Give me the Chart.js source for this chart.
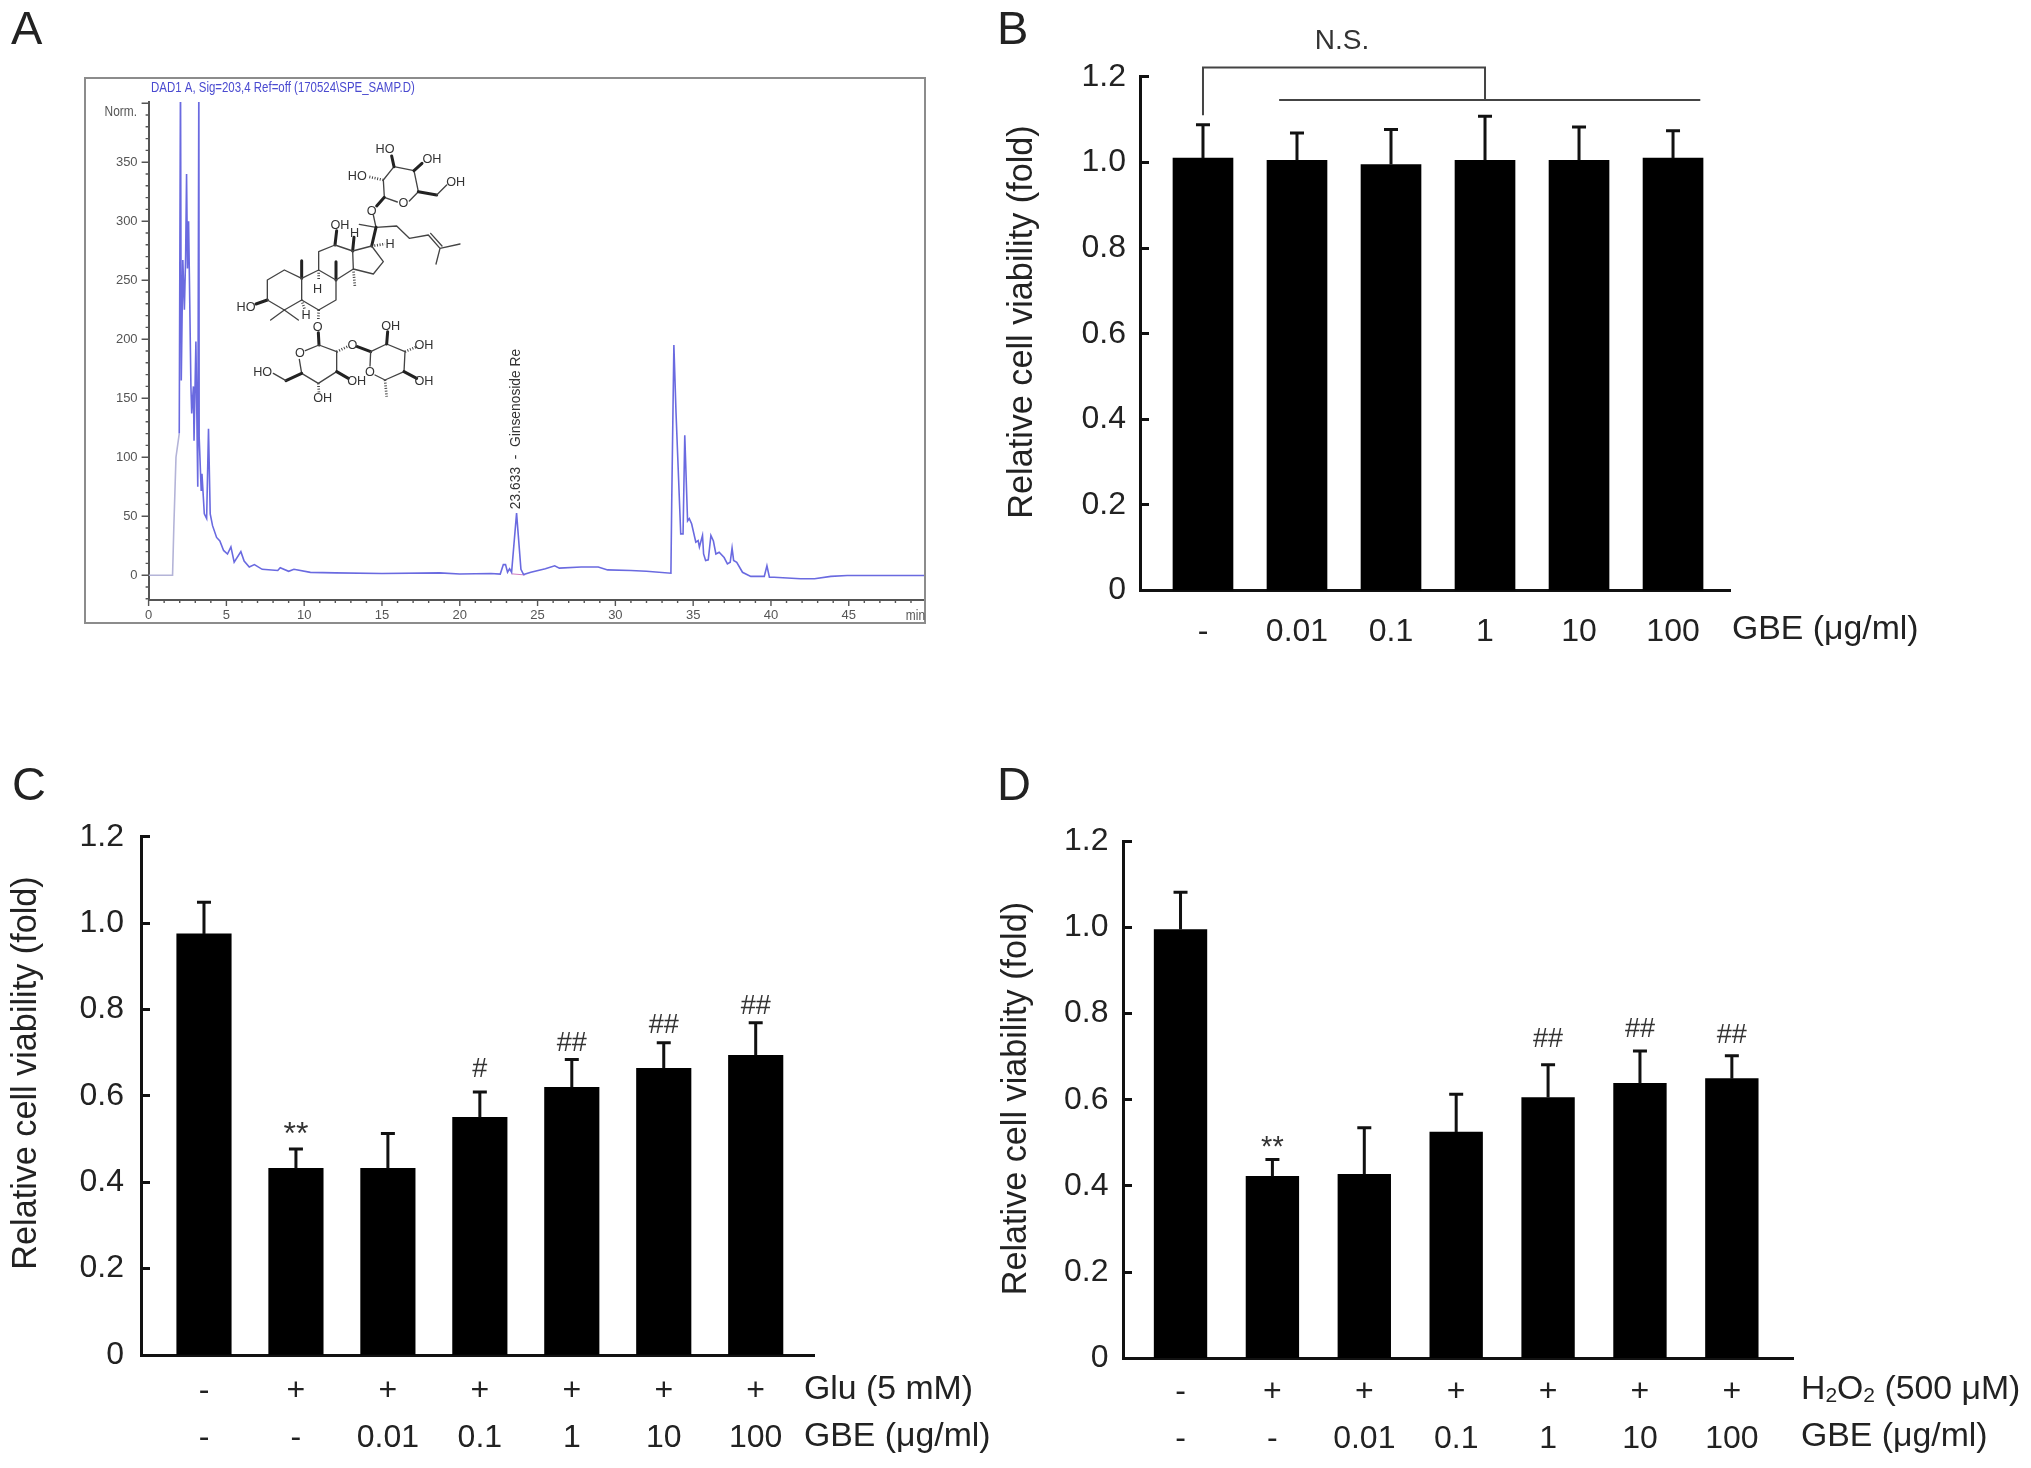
<!DOCTYPE html>
<html>
<head>
<meta charset="utf-8">
<title>GBE cell viability</title>
<style>
  html,body{margin:0;padding:0;background:#fff;}
  #page{position:relative;width:2031px;height:1468px;overflow:hidden;background:#fff;}
  #page canvas{position:absolute;left:0;top:0;}
  #chartA{filter:blur(.6px);}
  .bars{filter:blur(.35px);}
  .tag{position:absolute;font:47px/47px "Liberation Sans",Arial,sans-serif;color:#222;}
  #structure{position:absolute;left:220px;top:120px;width:280px;height:300px;filter:blur(.6px);}
  #structure .b{fill:none;stroke:#444;stroke-width:4;stroke-linecap:round;stroke-linejoin:round;}
  #structure .w{fill:none;stroke:#222;stroke-width:9;stroke-linecap:round;}
  #structure .d{fill:none;stroke:#444;stroke-width:8;stroke-dasharray:3 5;}
  #structure text{font:38px "Liberation Sans",Arial,sans-serif;fill:#333;text-anchor:middle;dominant-baseline:central;}
</style>
<script src="https://cdn.jsdelivr.net/npm/chart.js@4"></script>
</head>
<body>
<div id="page">
  <canvas id="chartA" width="2031" height="1468"></canvas>
  <canvas id="chartB" class="bars" width="2031" height="1468"></canvas>
  <canvas id="chartC" class="bars" width="2031" height="1468"></canvas>
  <canvas id="chartD" class="bars" width="2031" height="1468"></canvas>

  <div class="tag" style="left:11px;top:4px;">A</div>
  <div class="tag" style="left:997px;top:4px;">B</div>
  <div class="tag" style="left:12px;top:760px;">C</div>
  <div class="tag" style="left:997px;top:760px;">D</div>

  <!-- ginsenoside Re structure -->
  <svg id="structure" viewBox="0 0 840 900">
    <path class="b" d="M493 232L532 246M568 243L595 215L582 152L522 140L490 180L493 232"/>
    <path class="w" d="M522 140L515 108M582 152L606 130M595 215L650 225M493 232L470 258"/>
    <path class="b" d="M650 225L680 195M460 285L468 322"/>
    <path class="d" d="M490 180L445 170M455 378L495 372"/>
    <path class="b" d="M468 322L418 313M468 322L530 318L568 355L625 345L660 385L720 372M660 385L648 432M632 340L666 378"/>
    <path class="w" d="M468 322L455 378M398 393L402 352M345 375L350 332M348 480L348 425M245 475L245 422M142 540L108 552"/>
    <path class="b" d="M455 378L490 425L460 462L400 447L398 393L455 378"/>
    <path class="b" d="M398 393L345 375L296 395L296 450L348 480L400 447"/>
    <path class="b" d="M296 450L245 475L245 540L296 570L348 540L348 480"/>
    <path class="b" d="M245 475L193 450L142 480L142 540L193 570L245 540"/>
    <path class="b" d="M193 570L152 600M193 570L235 600"/>
    <path class="d" d="M400 447L405 503M296 450L296 482M245 540L254 568M296 570L295 598"/>
    <path class="w" d="M295 638L297 675"/>
    <path class="b" d="M297 675L256 692M238 718L245 760L295 790L350 755L350 695L297 675"/>
    <path class="d" d="M350 695L382 680M295 790L297 820"/>
    <path class="w" d="M412 680L452 695M245 760L198 782M350 755L385 775"/>
    <path class="b" d="M198 782L160 760"/>
    <path class="b" d="M452 695L450 738M465 765L495 780L552 755L555 695L500 672L452 695"/>
    <path class="w" d="M500 672L503 635M552 755L590 775"/>
    <path class="d" d="M555 695L590 680M495 780L500 830"/>
    <text x="495" y="88">HO</text><text x="636" y="118">OH</text><text x="412" y="168">HO</text>
    <text x="707" y="187">OH</text><text x="550" y="250">O</text><text x="455" y="272">O</text>
    <text x="360" y="315">OH</text><text x="404" y="340">H</text><text x="510" y="372">H</text>
    <text x="293" y="508">H</text><text x="258" y="585">H</text><text x="78" y="562">HO</text>
    <text x="293" y="620">O</text><text x="240" y="700">O</text><text x="397" y="675">O</text>
    <text x="450" y="755">O</text><text x="128" y="755">HO</text><text x="308" y="835">OH</text>
    <text x="410" y="783">OH</text><text x="512" y="617">OH</text><text x="612" y="675">OH</text>
    <text x="612" y="782">OH</text>
  </svg>
</div>

<script>
// ================== Data ==================
const Y_TICK_LABELS = ['0', '0.2', '0.4', '0.6', '0.8', '1.0', '1.2'];
const Y_TITLE = 'Relative cell viability (fold)';

// panel B
const B_GBE = ['-', '0.01', '0.1', '1', '10', '100'];
const B_VALUES = [1.01, 1.005, 0.995, 1.005, 1.005, 1.01];
const B_ERRORS = [0.078, 0.064, 0.082, 0.103, 0.078, 0.064];

// panel C
const C_GLU = ['-', '+', '+', '+', '+', '+', '+'];
const C_GBE = ['-', '-', '0.01', '0.1', '1', '10', '100'];
const C_VALUES = [0.975, 0.432, 0.432, 0.55, 0.62, 0.664, 0.694];
const C_ERRORS = [0.073, 0.045, 0.081, 0.059, 0.064, 0.059, 0.075];
const C_MARKS = ['', '**', '', '#', '##', '##', '##'];

// panel D
const D_H2O2 = ['-', '+', '+', '+', '+', '+', '+'];
const D_GBE = ['-', '-', '0.01', '0.1', '1', '10', '100'];
const D_VALUES = [0.995, 0.422, 0.427, 0.525, 0.605, 0.638, 0.649];
const D_ERRORS = [0.087, 0.039, 0.108, 0.088, 0.076, 0.075, 0.053];
const D_MARKS = ['', '**', '', '', '##', '##', '##'];

// panel A chromatogram (time in min, signal in norm.)
const CHROM_TIME = [0, 1.54, 1.62, 1.76, 1.97, 2.05, 2.08, 2.1, 2.2, 2.3, 2.38, 2.44, 2.5, 2.57, 2.62, 2.72, 2.77, 2.88, 2.92,
  3.04, 3.16, 3.23, 3.25, 3.38, 3.43, 3.58, 3.73, 3.85, 3.96, 4.11, 4.37, 4.58, 4.82, 5.07, 5.29, 5.5, 5.93, 6.14, 6.47, 6.8, 7.3,
  8.3, 8.46, 9, 9.34, 10.4, 12, 15, 18.7, 20, 22, 22.6, 22.8, 22.94, 23.07, 23.2, 23.33, 23.65, 23.93, 24.1, 24.57, 25.5,
  26.1, 26.4, 27.8, 28.9, 29.5, 31, 32, 33.57, 33.62, 33.76, 33.9, 34, 34.2, 34.35, 34.46, 34.64, 34.75, 34.9, 35.17, 35.32,
  35.4, 35.6, 35.67, 35.8, 35.97, 36.14, 36.3, 36.46, 36.67, 36.99, 37.2, 37.38, 37.5, 37.6, 37.8, 38.17, 38.7, 39.57, 39.74,
  39.9, 40.2, 41.9, 42.8, 43.85, 44.9, 49.9];
const CHROM_SIGNAL = [0, 0, 40, 100, 120, 430, 430, 165, 267, 225, 270, 340, 260, 300, 255, 160, 137, 160, 114,
  198, 75, 430, 117, 72, 86, 52, 48, 124, 52, 42, 32, 29, 21, 18, 24, 11, 20, 12, 7, 9, 5,
  4, 6.4, 3.3, 5, 2.4, 2, 1.5, 2, 1, 1.5, 1, 9, 9, 2.5, 5.4, 2.5, 52.6, 5, 0.5, 2.5, 5.4,
  8, 6, 7, 7, 4.5, 4, 3.4, 1.7, 60, 195, 137, 103, 35, 35, 118.5, 46, 48, 43.6, 28, 29.4,
  24, 33.7, 18, 12.5, 13, 33.7, 29, 18, 19.5, 15, 9.6, 11, 23, 12.5, 11, 2.5, -1, -1, 8,
  -1.7, -1.7, -3, -3, -1, -0.3, -0.3];
const PEAK_BASE_TIME = [23.3, 24.2];
const PEAK_BASE_SIGNAL = [1.2, 0.2];
const CHROM_X_TICKS = [0, 5, 10, 15, 20, 25, 30, 35, 40, 45];
const CHROM_Y_TICKS = [0, 50, 100, 150, 200, 250, 300, 350];

// ================== Helpers ==================
const SANS = '"Liberation Sans", Arial, sans-serif';
const W = 2031, H = 1468;

function putText(ctx, text, x, y, font, color, align='left', rotate=0, squeeze=1){
  ctx.save();
  ctx.translate(x, y);
  if(rotate) ctx.rotate(rotate);
  ctx.scale(squeeze, 1);
  ctx.font = font;
  ctx.fillStyle = color;
  ctx.textAlign = align;
  ctx.textBaseline = 'middle';
  ctx.fillText(text, 0, 0);
  ctx.restore();
}

// every chart canvas covers the whole page, so panel settings are page pixels
function layoutFor(p){
  return { padding: { left: 0, top: p.yTop, right: W - p.axisRight, bottom: 0 } };
}

// ================== Bar panels ==================
function barPanel(id, p){
  const xs = p.values.map((_, i)=>i);
  const plugin = {
    id: 'extras',
    afterDatasetsDraw(chart){
      const { ctx, scales: { x, y } } = chart;
      // upper error bars
      ctx.save();
      ctx.strokeStyle = '#111';
      ctx.lineWidth = 3;
      p.values.forEach((v, i)=>{
        const px = x.getPixelForValue(i);
        const top = y.getPixelForValue(v + p.errors[i]);
        ctx.beginPath();
        ctx.moveTo(px, y.getPixelForValue(v));
        ctx.lineTo(px, top);
        ctx.moveTo(px - 7, top);
        ctx.lineTo(px + 7, top);
        ctx.stroke();
      });
      ctx.restore();
      // ** and ## above the error bars
      (p.marks || []).forEach((m, i)=>{
        if(!m) return;
        ctx.save();
        ctx.font = `${m === '**' ? p.starSize : 27}px ${SANS}`;
        ctx.fillStyle = '#333';
        ctx.textAlign = 'center';
        ctx.textBaseline = 'alphabetic';
        ctx.fillText(m, x.getPixelForValue(i), y.getPixelForValue(p.values[i] + p.errors[i]) - p.markGaps[i]);
        ctx.restore();
      });
      putText(ctx, Y_TITLE, p.titleX, p.titleY, `34.2px ${SANS}`, '#222', 'center', -Math.PI/2);
      p.rows.forEach(r=>{
        if(r.runs){
          let cx = r.x;
          r.runs.forEach(([t, size, dy])=>{
            putText(ctx, t, cx, r.y + dy, `${size}px ${SANS}`, '#222');
            ctx.font = `${size}px ${SANS}`;
            cx += ctx.measureText(t).width;
          });
        }else{
          putText(ctx, r.text, r.x, r.y, `33.8px ${SANS}`, '#222');
        }
      });
      if(p.bracket) p.bracket(ctx, x, y);
    }
  };
  return new Chart(document.getElementById(id), {
    type: 'bar',
    data: {
      datasets: [{
        data: xs.map(i=>({ x: i, y: p.values[i] })),
        backgroundColor: '#000',
        borderWidth: 0,
        barThickness: p.barWidth,
      }]
    },
    options: {
      responsive: false,
      animation: false,
      devicePixelRatio: 1,
      layout: layoutFor(p),
      plugins: { legend: { display: false }, tooltip: { enabled: false } },
      scales: {
        x: {
          type: 'linear',
          offset: false,
          min: p.xMin,
          max: p.xMax,
          afterFit(s){ s.height = H - p.yZero; },
          afterBuildTicks(s){ s.ticks = xs.map(i=>({ value: i })); },
          grid: { display: true, offset: false, drawOnChartArea: false, drawTicks: false },
          border: { color: '#111', width: 3 },
          ticks: {
            autoSkip: false, maxRotation: 0, padding: p.xPad, color: '#222',
            font: { family: SANS, size: 32, lineHeight: p.rowGap / 32 },
            callback: (v)=>p.xLabels[v],
          },
        },
        y: {
          min: 0,
          max: 1.2,
          afterFit(s){ s.width = p.axisLeft; },
          grid: { drawOnChartArea: false, tickLength: -9, tickWidth: 3, tickColor: '#111' },
          border: { color: '#111', width: 3 },
          ticks: {
            stepSize: 0.2, padding: p.yPad, color: '#222',
            font: { family: SANS, size: 32 },
            callback: (v, i)=>Y_TICK_LABELS[i],
          },
        },
      },
    },
    plugins: [plugin],
  });
}

barPanel('chartB', {
  values: B_VALUES, errors: B_ERRORS, xLabels: B_GBE,
  axisLeft: 1140, axisRight: 1730, yTop: 76.8, yZero: 590.6,
  xMin: -0.67, xMax: 5.606, barWidth: 60, xPad: 18, yPad: 23, rowGap: 47,
  titleX: 1023, titleY: 322,
  rows: [{ text: 'GBE (\u03bcg/ml)', x: 1732, y: 630 }],
  bracket(ctx, x, y){
    ctx.save();
    ctx.strokeStyle = '#444';
    ctx.lineWidth = 2;
    ctx.beginPath();
    ctx.moveTo(x.getPixelForValue(0), y.getPixelForValue(1.11));
    ctx.lineTo(x.getPixelForValue(0), y.getPixelForValue(1.222));
    ctx.lineTo(x.getPixelForValue(3), y.getPixelForValue(1.222));
    ctx.lineTo(x.getPixelForValue(3), y.getPixelForValue(1.146));
    ctx.moveTo(x.getPixelForValue(0.81), y.getPixelForValue(1.146));
    ctx.lineTo(x.getPixelForValue(5.29), y.getPixelForValue(1.146));
    ctx.stroke();
    ctx.restore();
    putText(ctx, 'N.S.', 1342, 41, `28px ${SANS}`, '#333', 'center');
  },
});

barPanel('chartC', {
  values: C_VALUES, errors: C_ERRORS, xLabels: C_GLU.map((g, i)=>[g, C_GBE[i]]),
  marks: C_MARKS, markGaps: [0, 5, 0, 15, 9, 10, 9], starSize: 32,
  axisLeft: 141, axisRight: 814, yTop: 836.7, yZero: 1355,
  xMin: -0.685, xMax: 6.634, barWidth: 54.5, xPad: 13, yPad: 26, rowGap: 47,
  titleX: 27, titleY: 1073,
  rows: [
    { text: 'Glu (5 mM)', x: 804, y: 1390 },
    { text: 'GBE (\u03bcg/ml)', x: 804, y: 1437 },
  ],
});

barPanel('chartD', {
  values: D_VALUES, errors: D_ERRORS, xLabels: D_H2O2.map((g, i)=>[g, D_GBE[i]]),
  marks: D_MARKS, markGaps: [0, 4, 0, 0, 18, 14, 13], starSize: 29,
  axisLeft: 1123, axisRight: 1793.6, yTop: 841.3, yZero: 1358.2,
  xMin: -0.626, xMax: 6.672, barWidth: 52.7, xPad: 10, yPad: 23.5, rowGap: 47,
  titleX: 1016.5, titleY: 1098.6,
  rows: [
    { x: 1801, y: 1390, runs: [['H', 33.8, 0], ['2', 21, 6], ['O', 33.8, 0], ['2', 21, 6], [' (500 \u03bcM)', 33.8, 0]] },
    { text: 'GBE (\u03bcg/ml)', x: 1801, y: 1437 },
  ],
});

// ================== Chromatogram ==================
const CHROM = { axisLeft: 148.6, axisRight: 925, yTop: 102, yZero: 600 };

const chromExtras = {
  id: 'chromExtras',
  afterDraw(chart){
    const { ctx, scales: { x, y } } = chart;
    // frame of the instrument plot
    ctx.save();
    ctx.strokeStyle = '#8c8c8c';
    ctx.lineWidth = 2;
    ctx.strokeRect(85, 78, 840, 545);
    ctx.restore();
    // major and minor ticks, chart.js only has one tick length per scale
    ctx.save();
    ctx.strokeStyle = '#555';
    ctx.lineWidth = 1.4;
    ctx.beginPath();
    for(let v = -20; v <= 400; v += 10){
      const py = y.getPixelForValue(v);
      ctx.moveTo(x.left, py);
      ctx.lineTo(x.left - (v % 50 === 0 ? 7 : 3), py);
    }
    for(let t = 0; t <= 49; t++){
      const px = x.getPixelForValue(t);
      ctx.moveTo(px, y.bottom);
      ctx.lineTo(px, y.bottom + (t % 5 === 0 ? 6 : 3));
    }
    ctx.stroke();
    ctx.restore();
    putText(ctx, 'DAD1 A, Sig=203,4 Ref=off (170524\\SPE_SAMP.D)', 151, 88, `14.5px ${SANS}`, '#4a4ad0', 'left', 0, 0.79);
    putText(ctx, 'Norm.', 137, 112, `14px ${SANS}`, '#555', 'right', 0, 0.85);
    putText(ctx, 'min', 925, 616, `14px ${SANS}`, '#555', 'right', 0, 0.85);
    // peak label sits right above the peak at 23.633 min
    putText(ctx, '23.633  -  Ginsenoside Re', x.getPixelForValue(23.633), y.getPixelForValue(56), `13.8px ${SANS}`, '#333', 'left', -Math.PI/2);
  }
};

new Chart(document.getElementById('chartA'), {
  type: 'line',
  data: {
    datasets: [
      {
        data: CHROM_TIME.map((t, i)=>({ x: t, y: CHROM_SIGNAL[i] })),
        borderColor: '#6a6ae0',
        borderWidth: 1.6,
        pointRadius: 0,
        tension: 0,
        segment: { borderColor: c=>c.p1.parsed.x < 2 ? '#b4b4d8' : undefined },
      },
      {
        data: PEAK_BASE_TIME.map((t, i)=>({ x: t, y: PEAK_BASE_SIGNAL[i] })),
        borderColor: '#d27cc0',
        borderWidth: 1,
        pointRadius: 0,
      },
    ]
  },
  options: {
    responsive: false,
    animation: false,
    devicePixelRatio: 1,
    layout: layoutFor(CHROM),
    plugins: { legend: { display: false }, tooltip: { enabled: false } },
    scales: {
      x: {
        type: 'linear',
        min: 0,
        max: 49.9,
        afterFit(s){ s.height = H - CHROM.yZero; },
        afterBuildTicks(s){ s.ticks = CHROM_X_TICKS.map(v=>({ value: v })); },
        grid: { display: true, drawOnChartArea: false, drawTicks: false },
        border: { color: '#555', width: 2 },
        ticks: { autoSkip: false, maxRotation: 0, padding: 8, color: '#555', font: { family: SANS, size: 13 } },
      },
      y: {
        min: -21,
        max: 401,
        afterFit(s){ s.width = CHROM.axisLeft; },
        afterBuildTicks(s){ s.ticks = CHROM_Y_TICKS.map(v=>({ value: v })); },
        grid: { display: true, drawOnChartArea: false, drawTicks: false },
        border: { color: '#555', width: 2 },
        ticks: { autoSkip: false, padding: 11, color: '#555', font: { family: SANS, size: 13 } },
      },
    },
  },
  plugins: [chromExtras],
});
</script>
</body>
</html>
